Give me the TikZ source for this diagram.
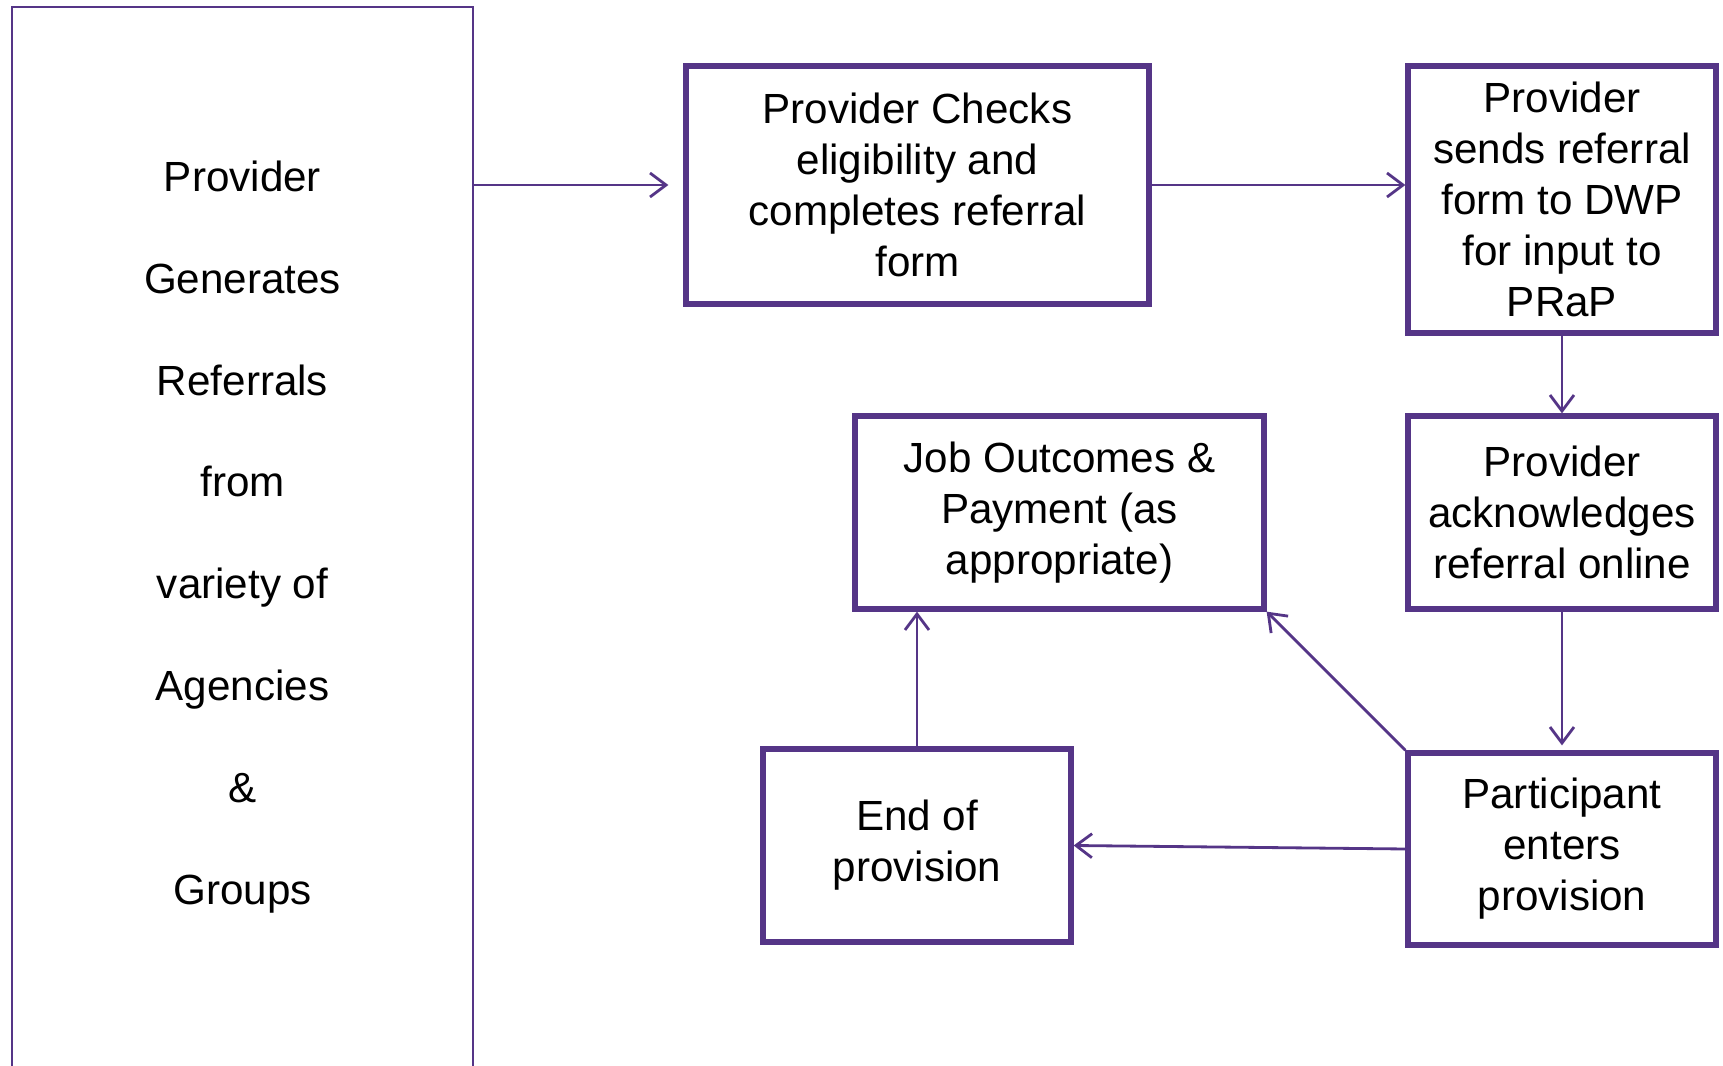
\documentclass[tikz,border=0pt]{standalone}
\usepackage{fontspec}
\setmainfont{Liberation Sans}
\usetikzlibrary{arrows.meta,positioning}
\definecolor{flowpurple}{RGB}{85,53,135}
\tikzset{
    stage/.style={
        draw=flowpurple,line width=1.5pt,align=center,
        inner sep=0pt,font=\fontsize{12}{14.5}\selectfont,
        minimum width=#1
    },
    stage/.default=3.08cm,
    link/.style={
        -{Straight Barb[length=1.6mm,width=2.4mm]},line width=0.8pt,draw=flowpurple
    }
}

\begin{document}
\begin{tikzpicture}

\clip (0,0) rectangle (17.23,-10.66);

\node[
draw=flowpurple,line width=0.6pt,minimum width=4.61cm,minimum height=10.6cm,
align=center,font=\fontsize{12}{29}\selectfont
] (referrals) at (2.425,-5.37)
{Provider\\Generates\\Referrals\\from\\variety of\\Agencies\\\&\\Groups};

\node[stage=4.63cm,minimum height=2.38cm] (checks) at (9.175,-1.85)
{Provider Checks\\eligibility and\\completes referral\\form};

\node[stage,minimum height=2.67cm] (sends) at (15.62,-1.995)
{Provider\\sends referral\\form to DWP\\for input to\\PRaP};

\node[stage,minimum height=1.93cm] (acknowledge) at (15.62,-5.125)
{Provider\\acknowledges\\referral online};

\node[stage=4.09cm,minimum height=1.93cm] (outcomes) at (10.595,-5.125)
{Job Outcomes \&\\Payment (as\\appropriate)};

\node[stage,minimum height=1.93cm] (endprov) at (9.17,-8.455)
{End of\\provision};

\node[stage,minimum height=1.92cm] (enters) at (15.62,-8.49)
{Participant\\enters\\provision};

% connectors
\draw[link] (referrals.east |- checks.west) -- ([xshift=-1.5mm]checks.west);
\draw[link] (checks.east) -- (checks.east -| sends.west);
\draw[link] (sends.south) -- (acknowledge.north);
\draw[link,shorten >=0.5mm] (acknowledge.south) -- (enters.north);
\draw[link] (enters.west) -- (endprov.east);
\draw[link] (endprov.north) -- (endprov.north |- outcomes.south);
\draw[link] (enters.north west) -- (outcomes.south east);

\end{tikzpicture}
\end{document}
